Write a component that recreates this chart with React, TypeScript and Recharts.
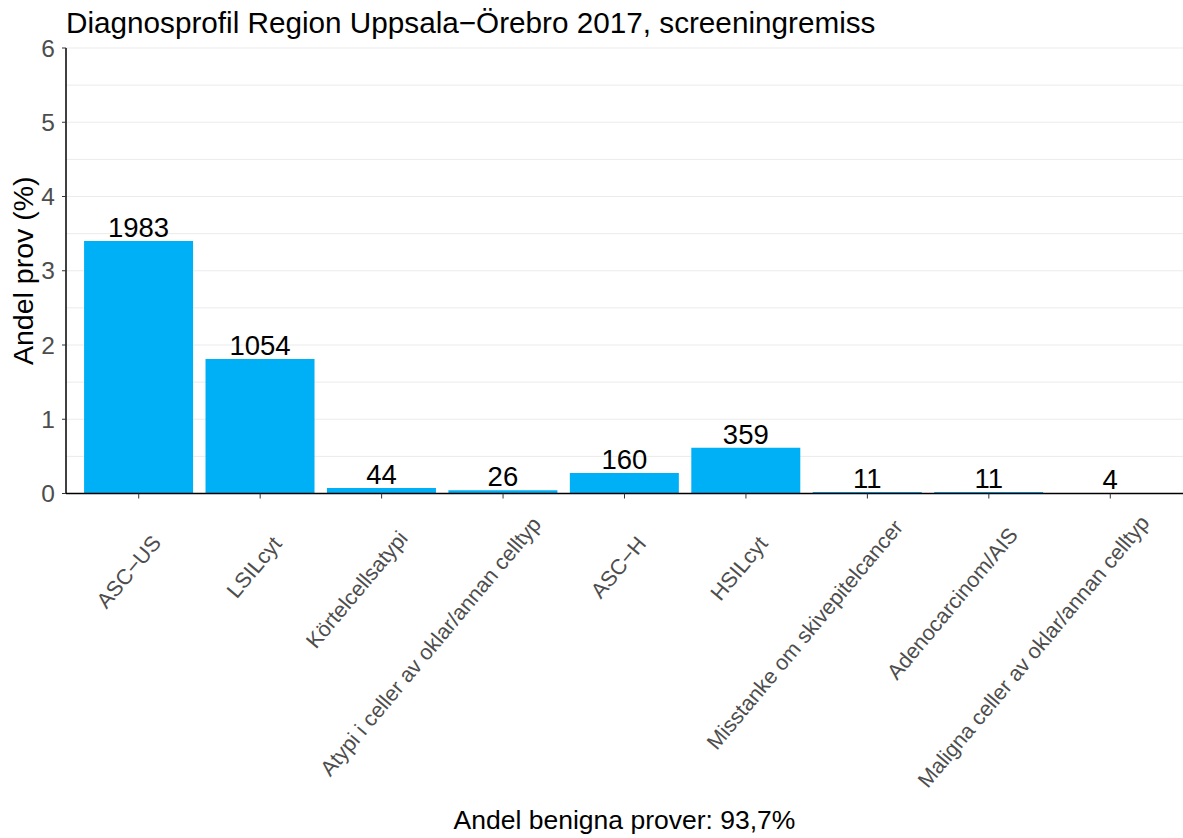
import React from "react";
import {
  BarChart, Bar, XAxis, YAxis, CartesianGrid, LabelList, Label,
} from "recharts";

const CATEGORIES = [
  "ASC\u2212US",
  "LSILcyt",
  "Körtelcellsatypi",
  "Atypi i celler av oklar/annan celltyp",
  "ASC\u2212H",
  "HSILcyt",
  "Misstanke om skivepitelcancer",
  "Adenocarcinom/AIS",
  "Maligna celler av oklar/annan celltyp",
];
const SHARE_PCT = [3.4, 1.81, 0.075, 0.045, 0.275, 0.615, 0.019, 0.019, 0.007];
const COUNTS = [1983, 1054, 44, 26, 160, 359, 11, 11, 4];
const Y_TICKS = [0, 1, 2, 3, 4, 5, 6];
const GRID_VALUES = [0, 0.5, 1, 1.5, 2, 2.5, 3, 3.5, 4, 4.5, 5, 5.5, 6];

const TITLE = "Diagnosprofil Region Uppsala\u2212Örebro 2017, screeningremiss";
const X_TITLE = "Andel benigna prover: 93,7%";
const Y_TITLE = "Andel prov (%)";

const FONT = "'Liberation Sans', Arial, Helvetica, sans-serif";
const TICK_FONT_SIZE = 21.5;
const ANGLE = 50;

const data = CATEGORIES.map((name, i) => ({
  name,
  value: SHARE_PCT[i],
  count: COUNTS[i],
}));

let ctx: CanvasRenderingContext2D | null = null;
function textWidth(s: string) {
  if (!ctx) ctx = document.createElement("canvas").getContext("2d");
  if (!ctx) return s.length * TICK_FONT_SIZE * 0.5;
  ctx.font = `${TICK_FONT_SIZE}px ${FONT}`;
  return ctx.measureText(s).width;
}

// rotated labels, justified a bit short of the end (like hjust ~0.9)
function XTick({ x, y, payload }: any) {
  const rad = (ANGLE * Math.PI) / 180;
  const L = textWidth(String(payload.value));
  const ax = x + 18 + 0.1 * L * Math.cos(rad);
  const ay = y - 7 + 56.5 - 0.1 * L * Math.sin(rad);
  return (
    <g transform={`translate(${ax},${ay})`}>
      <text
        x={0}
        y={0}
        textAnchor="end"
        transform={`rotate(-${ANGLE})`}
        fill="#4d4d4d"
        fontSize={TICK_FONT_SIZE}
        fontFamily={FONT}
      >
        {payload.value}
      </text>
    </g>
  );
}

export default function App() {
  return (
    <div style={{ position: "absolute", left: 0, top: 0, width: 1183, height: 838, background: "#fff", fontFamily: FONT }}>
      <div style={{ position: "absolute", left: 66, top: 8, fontSize: 29.7, lineHeight: "29px", color: "#000", whiteSpace: "nowrap" }}>
        {TITLE}
      </div>
      <BarChart
        width={1183}
        height={838}
        data={data}
        margin={{ top: 48, right: 0, left: 0, bottom: 0 }}
        barCategoryGap="5%"
      >
        <CartesianGrid vertical={false} horizontalValues={GRID_VALUES} stroke="#ebebeb" strokeWidth={1} />
        <XAxis
          dataKey="name"
          interval={0}
          height={344.5}
          padding={{ left: 12, right: 12 }}
          axisLine={{ stroke: "#000", strokeWidth: 1.5 }}
          tickLine={{ stroke: "#333" }}
          tickSize={5}
          tick={<XTick />}
        >
          <Label
            content={({ viewBox }: any) => (
              <text
                x={viewBox.x + viewBox.width / 2}
                y={829}
                textAnchor="middle"
                fontSize={26.5}
                fontFamily={FONT}
                fill="#000"
              >
                {X_TITLE}
              </text>
            )}
          />
        </XAxis>
        <YAxis
          domain={[0, 6]}
          ticks={Y_TICKS}
          width={66}
          axisLine={{ stroke: "#000", strokeWidth: 1.5 }}
          tickLine={{ stroke: "#333" }}
          tickSize={4}
          tickMargin={7}
          tick={{ fill: "#4d4d4d", fontSize: 24.5, fontFamily: FONT }}
        >
          <Label
            content={({ viewBox }: any) => {
              const cy = viewBox.y + viewBox.height / 2;
              return (
                <text
                  x={33}
                  y={cy}
                  transform={`rotate(-90, 33, ${cy})`}
                  textAnchor="middle"
                  fontSize={28.5}
                  fontFamily={FONT}
                  fill="#000"
                >
                  {Y_TITLE}
                </text>
              );
            }}
          />
        </YAxis>
        <Bar dataKey="value" fill="#00B0F6" isAnimationActive={false}>
          <LabelList
            dataKey="count"
            position="top"
            offset={4}
            fill="#000"
            fontSize={27.5}
            fontFamily={FONT}
          />
        </Bar>
      </BarChart>
    </div>
  );
}
